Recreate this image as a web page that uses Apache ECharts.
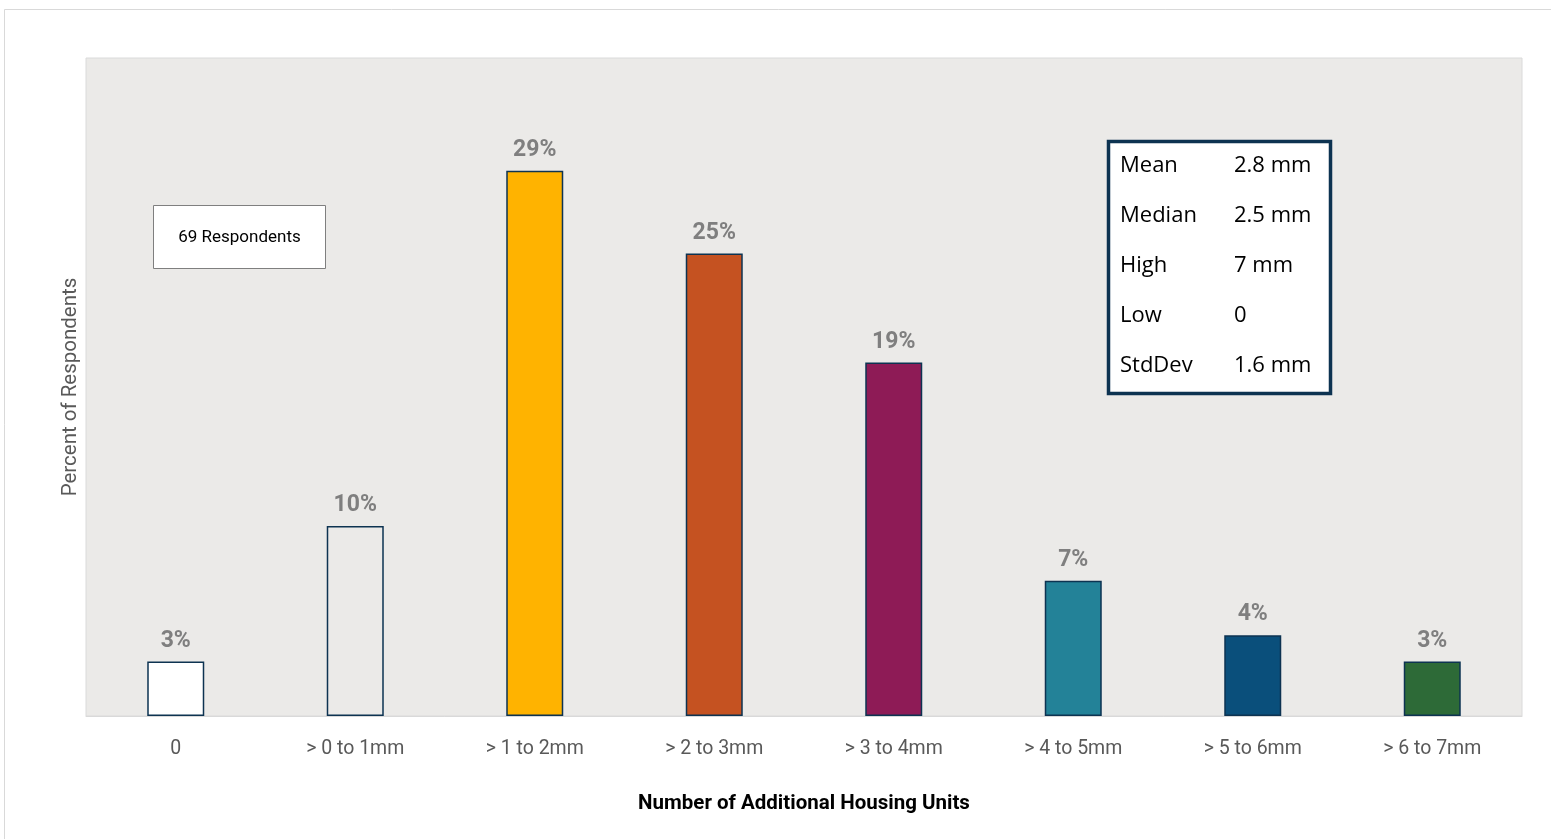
<!DOCTYPE html>
<html>
<head>
<meta charset="utf-8">
<script src="https://cdn.jsdelivr.net/npm/echarts@6/dist/echarts.min.js"></script>
<style>
html,body{margin:0;padding:0;background:#fff;}
#chart{width:1551px;height:839px;}
</style>
</head>
<body>
<div id="chart"></div>
<script>
const categories = ['0', '> 0 to 1mm', '> 1 to 2mm', '> 2 to 3mm', '> 3 to 4mm', '> 4 to 5mm', '> 5 to 6mm', '> 6 to 7mm'];
const percentValues = [2.9, 10.1, 29.0, 24.6, 18.8, 7.2, 4.3, 2.9];
const valueLabels = ['3%', '10%', '29%', '25%', '19%', '7%', '4%', '3%'];
const barColors = ['#FFFFFF', 'rgba(0,0,0,0)', '#FFB300', '#C55221', '#8E1B56', '#238298', '#0A4F7B', '#2D6A37'];
const statNames = ['Mean', 'Median', 'High', 'Low', 'StdDev'];
const statValues = ['2.8 mm', '2.5 mm', '7 mm', '0', '1.6 mm'];
const respondentsText = '69 Respondents';
const xAxisTitle = 'Number of Additional Housing Units';
const yAxisTitle = 'Percent of Respondents';

const chart = echarts.init(document.getElementById('chart'));

const statTexts = [];
statNames.forEach((n, i) => {
  statTexts.push({type:'text', x: 1120, y: 165.5 + i*50.1, z:11,
    style:{text:n, font:'22px "Open Sans", sans-serif', fill:'#000', verticalAlign:'middle'}});
  statTexts.push({type:'text', x: 1234, y: 165.5 + i*50.1, z:11,
    style:{text:statValues[i], font:'22px "Open Sans", sans-serif', fill:'#000', verticalAlign:'middle'}});
});

chart.setOption({
  animation:false,
  backgroundColor:'#ffffff',
  grid:{left:86, right:29, top:58, bottom:123, show:true, backgroundColor:'#EBEAE8', borderColor:'#DADADA', borderWidth:1, containLabel:false},
  xAxis:{
    type:'category', data:categories,
    axisLine:{show:true, lineStyle:{color:'#D9D9D9', width:1}},
    axisTick:{show:false},
    axisLabel:{color:'#595959', fontSize:19.5, fontFamily:'Roboto, sans-serif', margin:23},
    name:xAxisTitle, nameLocation:'middle', nameGap:77,
    nameTextStyle:{color:'#000', fontSize:20.5, fontWeight:'bold', fontFamily:'Roboto, sans-serif'}
  },
  yAxis:{
    type:'value', min:0, max:35,
    axisLine:{show:false}, axisTick:{show:false}, axisLabel:{show:false}, splitLine:{show:false},
    name:yAxisTitle, nameLocation:'middle', nameGap:5,
    nameTextStyle:{color:'#595959', fontSize:20.5, fontFamily:'Roboto, sans-serif'}
  },
  series:[{
    type:'bar', barWidth:57,
    data:percentValues.map((v,i)=>({value:v, itemStyle:{color:barColors[i]}})),
    itemStyle:{borderColor:'#0D3351', borderWidth:1.5},
    label:{show:true, position:'top', distance:9, color:'#7F7F7F', fontSize:23, fontWeight:'bold',
      fontFamily:'Roboto, sans-serif', formatter:(p)=>valueLabels[p.dataIndex]}
  }],
  graphic:[
    {type:'rect', shape:{x:4.5, y:9.5, width:1560, height:840}, style:{fill:'none', stroke:'#D9D9D9', lineWidth:1}, silent:true, z:-10},
    {type:'rect', shape:{x:153.5, y:205.5, width:172, height:63}, style:{fill:'#fff', stroke:'#7F7F7F', lineWidth:1}, z:10},
    {type:'text', x:239.5, y:238, z:11, style:{text:respondentsText, font:'17px Roboto, sans-serif', fill:'#000', align:'center', verticalAlign:'middle'}},
    {type:'rect', shape:{x:1108.5, y:141.5, width:222, height:252}, style:{fill:'#fff', stroke:'#0D3351', lineWidth:3.5}, z:10}
  ].concat(statTexts)
});
</script>
</body>
</html>
